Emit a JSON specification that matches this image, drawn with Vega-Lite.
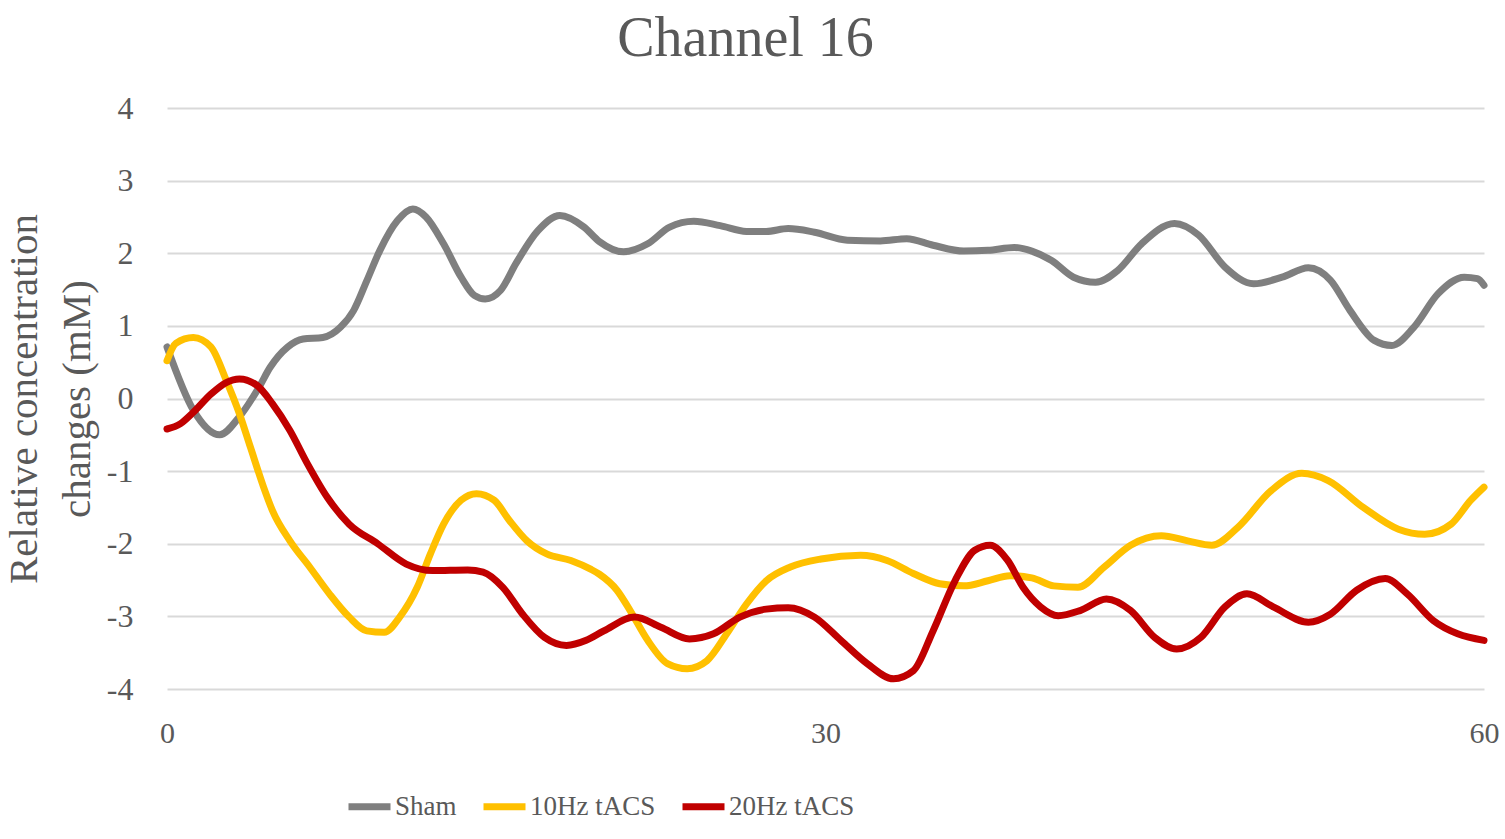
{
  "$schema": "https://vega.github.io/schema/vega-lite/v6.json",
  "description": "Channel 16: relative concentration changes over time for Sham, 10Hz and 20Hz tACS.",
  "width": 1317,
  "height": 581,
  "autosize": "none",
  "padding": {"left": 167, "top": 108, "right": 21, "bottom": 150},
  "background": "white",
  "title": {
    "text": "Channel 16",
    "anchor": "middle",
    "dx": -80,
    "offset": 24,
    "font": "Liberation Serif",
    "fontSize": 56,
    "fontWeight": "normal",
    "color": "#595959"
  },
  "config": {
    "view": {"stroke": null},
    "axis": {"labelFont": "Liberation Serif", "titleFont": "Liberation Serif", "labelColor": "#595959", "titleColor": "#595959"}
  },
  "data": {
    "values": [
      {"t": 0, "v": 0.71, "s": "Sham"},
      {"t": 1.2, "v": -0.16, "s": "Sham"},
      {"t": 2.4, "v": -0.5, "s": "Sham"},
      {"t": 3.3, "v": -0.25, "s": "Sham"},
      {"t": 4.2, "v": 0.16, "s": "Sham"},
      {"t": 4.7, "v": 0.43, "s": "Sham"},
      {"t": 5.5, "v": 0.71, "s": "Sham"},
      {"t": 6.2, "v": 0.82, "s": "Sham"},
      {"t": 7.1, "v": 0.84, "s": "Sham"},
      {"t": 7.9, "v": 0.98, "s": "Sham"},
      {"t": 8.5, "v": 1.21, "s": "Sham"},
      {"t": 9.1, "v": 1.62, "s": "Sham"},
      {"t": 9.7, "v": 2.04, "s": "Sham"},
      {"t": 10.5, "v": 2.45, "s": "Sham"},
      {"t": 11.2, "v": 2.61, "s": "Sham"},
      {"t": 11.8, "v": 2.5, "s": "Sham"},
      {"t": 12.6, "v": 2.13, "s": "Sham"},
      {"t": 13.4, "v": 1.67, "s": "Sham"},
      {"t": 14.0, "v": 1.42, "s": "Sham"},
      {"t": 14.5, "v": 1.37, "s": "Sham"},
      {"t": 15.2, "v": 1.49, "s": "Sham"},
      {"t": 15.9, "v": 1.86, "s": "Sham"},
      {"t": 16.9, "v": 2.31, "s": "Sham"},
      {"t": 17.9, "v": 2.52, "s": "Sham"},
      {"t": 19.0, "v": 2.36, "s": "Sham"},
      {"t": 19.7, "v": 2.16, "s": "Sham"},
      {"t": 20.8, "v": 2.02, "s": "Sham"},
      {"t": 21.9, "v": 2.13, "s": "Sham"},
      {"t": 22.9, "v": 2.36, "s": "Sham"},
      {"t": 24.0, "v": 2.44, "s": "Sham"},
      {"t": 25.2, "v": 2.38, "s": "Sham"},
      {"t": 26.4, "v": 2.3, "s": "Sham"},
      {"t": 27.3, "v": 2.3, "s": "Sham"},
      {"t": 28.3, "v": 2.34, "s": "Sham"},
      {"t": 29.5, "v": 2.29, "s": "Sham"},
      {"t": 31.0, "v": 2.18, "s": "Sham"},
      {"t": 32.5, "v": 2.17, "s": "Sham"},
      {"t": 33.7, "v": 2.2, "s": "Sham"},
      {"t": 34.9, "v": 2.11, "s": "Sham"},
      {"t": 36.3, "v": 2.03, "s": "Sham"},
      {"t": 37.4, "v": 2.04, "s": "Sham"},
      {"t": 38.6, "v": 2.08, "s": "Sham"},
      {"t": 39.4, "v": 2.03, "s": "Sham"},
      {"t": 40.3, "v": 1.9, "s": "Sham"},
      {"t": 41.3, "v": 1.67, "s": "Sham"},
      {"t": 42.3, "v": 1.6, "s": "Sham"},
      {"t": 43.3, "v": 1.76, "s": "Sham"},
      {"t": 44.4, "v": 2.13, "s": "Sham"},
      {"t": 45.9, "v": 2.41, "s": "Sham"},
      {"t": 47.0, "v": 2.25, "s": "Sham"},
      {"t": 48.2, "v": 1.81, "s": "Sham"},
      {"t": 49.5, "v": 1.58, "s": "Sham"},
      {"t": 50.8, "v": 1.67, "s": "Sham"},
      {"t": 52.0, "v": 1.8, "s": "Sham"},
      {"t": 53.0, "v": 1.63, "s": "Sham"},
      {"t": 53.9, "v": 1.21, "s": "Sham"},
      {"t": 55.0, "v": 0.8, "s": "Sham"},
      {"t": 55.8, "v": 0.73, "s": "Sham"},
      {"t": 56.8, "v": 0.98, "s": "Sham"},
      {"t": 57.9, "v": 1.44, "s": "Sham"},
      {"t": 59.1, "v": 1.67, "s": "Sham"},
      {"t": 59.7, "v": 1.65, "s": "Sham"},
      {"t": 60, "v": 1.56, "s": "Sham"},

      {"t": 0, "v": 0.52, "s": "10Hz tACS"},
      {"t": 0.4, "v": 0.76, "s": "10Hz tACS"},
      {"t": 1.2, "v": 0.84, "s": "10Hz tACS"},
      {"t": 2.0, "v": 0.71, "s": "10Hz tACS"},
      {"t": 2.7, "v": 0.25, "s": "10Hz tACS"},
      {"t": 3.3, "v": -0.21, "s": "10Hz tACS"},
      {"t": 3.8, "v": -0.67, "s": "10Hz tACS"},
      {"t": 4.4, "v": -1.22, "s": "10Hz tACS"},
      {"t": 4.8, "v": -1.54, "s": "10Hz tACS"},
      {"t": 5.6, "v": -1.96, "s": "10Hz tACS"},
      {"t": 6.5, "v": -2.32, "s": "10Hz tACS"},
      {"t": 7.4, "v": -2.69, "s": "10Hz tACS"},
      {"t": 8.3, "v": -3.01, "s": "10Hz tACS"},
      {"t": 9.1, "v": -3.2, "s": "10Hz tACS"},
      {"t": 9.9, "v": -3.22, "s": "10Hz tACS"},
      {"t": 10.6, "v": -3.01, "s": "10Hz tACS"},
      {"t": 11.4, "v": -2.6, "s": "10Hz tACS"},
      {"t": 12.0, "v": -2.14, "s": "10Hz tACS"},
      {"t": 12.6, "v": -1.73, "s": "10Hz tACS"},
      {"t": 13.4, "v": -1.4, "s": "10Hz tACS"},
      {"t": 14.1, "v": -1.31, "s": "10Hz tACS"},
      {"t": 14.9, "v": -1.4, "s": "10Hz tACS"},
      {"t": 15.6, "v": -1.68, "s": "10Hz tACS"},
      {"t": 16.4, "v": -1.96, "s": "10Hz tACS"},
      {"t": 17.3, "v": -2.14, "s": "10Hz tACS"},
      {"t": 18.4, "v": -2.23, "s": "10Hz tACS"},
      {"t": 19.3, "v": -2.35, "s": "10Hz tACS"},
      {"t": 19.7, "v": -2.42, "s": "10Hz tACS"},
      {"t": 20.5, "v": -2.64, "s": "10Hz tACS"},
      {"t": 21.1, "v": -2.92, "s": "10Hz tACS"},
      {"t": 21.9, "v": -3.33, "s": "10Hz tACS"},
      {"t": 22.8, "v": -3.65, "s": "10Hz tACS"},
      {"t": 23.7, "v": -3.72, "s": "10Hz tACS"},
      {"t": 24.6, "v": -3.61, "s": "10Hz tACS"},
      {"t": 25.5, "v": -3.24, "s": "10Hz tACS"},
      {"t": 26.4, "v": -2.83, "s": "10Hz tACS"},
      {"t": 27.3, "v": -2.51, "s": "10Hz tACS"},
      {"t": 28.4, "v": -2.32, "s": "10Hz tACS"},
      {"t": 29.8, "v": -2.21, "s": "10Hz tACS"},
      {"t": 31.6, "v": -2.16, "s": "10Hz tACS"},
      {"t": 32.8, "v": -2.23, "s": "10Hz tACS"},
      {"t": 34.0, "v": -2.41, "s": "10Hz tACS"},
      {"t": 35.2, "v": -2.55, "s": "10Hz tACS"},
      {"t": 36.3, "v": -2.58, "s": "10Hz tACS"},
      {"t": 37.4, "v": -2.51, "s": "10Hz tACS"},
      {"t": 38.4, "v": -2.44, "s": "10Hz tACS"},
      {"t": 39.4, "v": -2.47, "s": "10Hz tACS"},
      {"t": 40.4, "v": -2.58, "s": "10Hz tACS"},
      {"t": 41.5, "v": -2.6, "s": "10Hz tACS"},
      {"t": 42.7, "v": -2.32, "s": "10Hz tACS"},
      {"t": 43.9, "v": -2.02, "s": "10Hz tACS"},
      {"t": 45.3, "v": -1.89, "s": "10Hz tACS"},
      {"t": 46.5, "v": -1.96, "s": "10Hz tACS"},
      {"t": 47.6, "v": -2.02, "s": "10Hz tACS"},
      {"t": 48.8, "v": -1.77, "s": "10Hz tACS"},
      {"t": 50.3, "v": -1.27, "s": "10Hz tACS"},
      {"t": 51.7, "v": -1.03, "s": "10Hz tACS"},
      {"t": 52.9, "v": -1.13, "s": "10Hz tACS"},
      {"t": 54.5, "v": -1.5, "s": "10Hz tACS"},
      {"t": 56.1, "v": -1.8, "s": "10Hz tACS"},
      {"t": 57.3, "v": -1.87, "s": "10Hz tACS"},
      {"t": 58.5, "v": -1.73, "s": "10Hz tACS"},
      {"t": 59.4, "v": -1.4, "s": "10Hz tACS"},
      {"t": 60, "v": -1.22, "s": "10Hz tACS"},

      {"t": 0, "v": -0.42, "s": "20Hz tACS"},
      {"t": 0.6, "v": -0.35, "s": "20Hz tACS"},
      {"t": 1.2, "v": -0.19, "s": "20Hz tACS"},
      {"t": 2.0, "v": 0.06, "s": "20Hz tACS"},
      {"t": 2.7, "v": 0.22, "s": "20Hz tACS"},
      {"t": 3.3, "v": 0.27, "s": "20Hz tACS"},
      {"t": 4.1, "v": 0.18, "s": "20Hz tACS"},
      {"t": 4.8, "v": -0.07, "s": "20Hz tACS"},
      {"t": 5.6, "v": -0.44, "s": "20Hz tACS"},
      {"t": 6.4, "v": -0.9, "s": "20Hz tACS"},
      {"t": 7.3, "v": -1.36, "s": "20Hz tACS"},
      {"t": 8.3, "v": -1.73, "s": "20Hz tACS"},
      {"t": 9.6, "v": -2.0, "s": "20Hz tACS"},
      {"t": 10.9, "v": -2.28, "s": "20Hz tACS"},
      {"t": 12.1, "v": -2.37, "s": "20Hz tACS"},
      {"t": 13.7, "v": -2.36, "s": "20Hz tACS"},
      {"t": 14.4, "v": -2.39, "s": "20Hz tACS"},
      {"t": 15.3, "v": -2.6, "s": "20Hz tACS"},
      {"t": 16.2, "v": -2.97, "s": "20Hz tACS"},
      {"t": 17.2, "v": -3.29, "s": "20Hz tACS"},
      {"t": 18.2, "v": -3.4, "s": "20Hz tACS"},
      {"t": 19.1, "v": -3.33, "s": "20Hz tACS"},
      {"t": 19.9, "v": -3.2, "s": "20Hz tACS"},
      {"t": 21.3, "v": -3.01, "s": "20Hz tACS"},
      {"t": 22.5, "v": -3.15, "s": "20Hz tACS"},
      {"t": 23.8, "v": -3.31, "s": "20Hz tACS"},
      {"t": 24.9, "v": -3.24, "s": "20Hz tACS"},
      {"t": 26.1, "v": -3.01, "s": "20Hz tACS"},
      {"t": 27.3, "v": -2.9, "s": "20Hz tACS"},
      {"t": 28.3, "v": -2.88, "s": "20Hz tACS"},
      {"t": 29.5, "v": -3.01, "s": "20Hz tACS"},
      {"t": 30.7, "v": -3.33, "s": "20Hz tACS"},
      {"t": 31.9, "v": -3.65, "s": "20Hz tACS"},
      {"t": 33.1, "v": -3.86, "s": "20Hz tACS"},
      {"t": 34.0, "v": -3.75, "s": "20Hz tACS"},
      {"t": 34.9, "v": -3.2, "s": "20Hz tACS"},
      {"t": 35.9, "v": -2.51, "s": "20Hz tACS"},
      {"t": 36.8, "v": -2.09, "s": "20Hz tACS"},
      {"t": 37.5, "v": -2.02, "s": "20Hz tACS"},
      {"t": 38.3, "v": -2.23, "s": "20Hz tACS"},
      {"t": 39.0, "v": -2.6, "s": "20Hz tACS"},
      {"t": 39.8, "v": -2.87, "s": "20Hz tACS"},
      {"t": 40.6, "v": -2.99, "s": "20Hz tACS"},
      {"t": 41.6, "v": -2.92, "s": "20Hz tACS"},
      {"t": 42.8, "v": -2.76, "s": "20Hz tACS"},
      {"t": 43.9, "v": -2.92, "s": "20Hz tACS"},
      {"t": 45.0, "v": -3.29, "s": "20Hz tACS"},
      {"t": 46.0, "v": -3.45, "s": "20Hz tACS"},
      {"t": 47.1, "v": -3.29, "s": "20Hz tACS"},
      {"t": 48.2, "v": -2.87, "s": "20Hz tACS"},
      {"t": 49.2, "v": -2.69, "s": "20Hz tACS"},
      {"t": 50.4, "v": -2.87, "s": "20Hz tACS"},
      {"t": 52.0, "v": -3.08, "s": "20Hz tACS"},
      {"t": 53.0, "v": -2.97, "s": "20Hz tACS"},
      {"t": 54.2, "v": -2.64, "s": "20Hz tACS"},
      {"t": 55.5, "v": -2.48, "s": "20Hz tACS"},
      {"t": 56.5, "v": -2.69, "s": "20Hz tACS"},
      {"t": 57.7, "v": -3.06, "s": "20Hz tACS"},
      {"t": 58.8, "v": -3.24, "s": "20Hz tACS"},
      {"t": 60, "v": -3.33, "s": "20Hz tACS"}
    ]
  },
  "mark": {"type": "line", "interpolate": "monotone", "strokeWidth": 7, "strokeCap": "round", "strokeJoin": "round"},
  "encoding": {
    "x": {
      "field": "t",
      "type": "quantitative",
      "scale": {"domain": [0, 60], "nice": false},
      "axis": {
        "values": [0, 30, 60],
        "title": null,
        "grid": false,
        "domain": false,
        "ticks": false,
        "labelFlush": false,
        "labelFontSize": 30,
        "labelPadding": 29
      }
    },
    "y": {
      "field": "v",
      "type": "quantitative",
      "scale": {"domain": [-4, 4], "nice": false, "zero": false},
      "axis": {
        "values": [-4, -3, -2, -1, 0, 1, 2, 3, 4],
        "labelExpr": "datum.value < 0 ? '-' + abs(datum.value) : '' + datum.value",
        "title": ["Relative concentration", "changes (mM)"],
        "titleFontSize": 41,
        "titleFontWeight": "normal",
        "titleLineHeight": 53,
        "titlePadding": 8,
        "domain": false,
        "ticks": false,
        "grid": true,
        "gridColor": "#d9d9d9",
        "gridWidth": 2,
        "labelFontSize": 32,
        "labelPadding": 34
      }
    },
    "color": {
      "field": "s",
      "type": "nominal",
      "sort": ["Sham", "10Hz tACS", "20Hz tACS"],
      "scale": {"domain": ["Sham", "10Hz tACS", "20Hz tACS"], "range": ["#7f7f7f", "#ffc000", "#c00000"]},
      "legend": {
        "title": null,
        "orient": "none",
        "direction": "horizontal",
        "legendX": 178,
        "legendY": 674,
        "symbolType": "stroke",
        "symbolSize": 1764,
        "symbolStrokeWidth": 7,
        "labelFont": "Liberation Serif",
        "labelFontSize": 27,
        "labelColor": "#595959",
        "labelOffset": 1,
        "columnPadding": 12
      }
    }
  }
}
